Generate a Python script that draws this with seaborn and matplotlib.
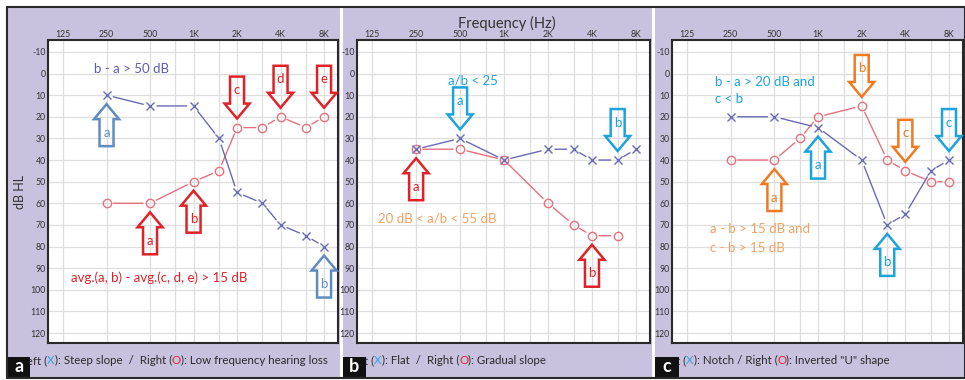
import matplotlib
matplotlib.use("Agg")
import matplotlib.pyplot as plt
import seaborn as sns
from matplotlib.patches import Polygon, Rectangle
from matplotlib.transforms import ScaledTranslation
from matplotlib.ticker import FixedLocator, NullFormatter

sns.set_theme(style="white")
plt.rcParams['font.family'] = ['Lato', 'DejaVu Sans']

# ---- data ----
octaves = [125, 250, 500, 1000, 2000, 4000, 8000]
octave_labels = ['125', '250', '500', '1K', '2K', '4K', '8K']
half_octaves = [750, 1500, 3000, 6000]
db_ticks = list(range(-10, 130, 10))

# panel a: steep slope (left) / low frequency hearing loss (right)
a_left_f = [250, 500, 1000, 1500, 2000, 3000, 4000, 6000, 8000]
a_left_db = [10, 15, 15, 30, 55, 60, 70, 75, 80]
a_right_f = [250, 500, 1000, 1500, 2000, 3000, 4000, 6000, 8000]
a_right_db = [60, 60, 50, 45, 25, 25, 20, 25, 20]

# panel b: flat (left) / gradual slope (right)
b_left_f = [250, 500, 1000, 2000, 3000, 4000, 6000, 8000]
b_left_db = [35, 30, 40, 35, 35, 40, 40, 35]
b_right_f = [250, 500, 1000, 2000, 3000, 4000, 6000]
b_right_db = [35, 35, 40, 60, 70, 75, 75]

# panel c: notch (left) / inverted "U" (right)
c_left_f = [250, 500, 1000, 2000, 3000, 4000, 6000, 8000]
c_left_db = [20, 20, 25, 40, 70, 65, 45, 40]
c_right_f = [250, 500, 750, 1000, 2000, 3000, 4000, 6000, 8000]
c_right_db = [40, 40, 30, 20, 15, 40, 45, 50, 50]

# colours
LAV = '#c9c2de'
X_COL = '#6a6ab6'
O_COL = '#e8707e'
RED = '#e02228'
STEEL = '#5f8cc0'
CYAN = '#1ea3dc'
ORANGE = '#f07a22'
ORANGE_TXT = '#f2a260'
PURPLE_TXT = '#5c5cb4'
CAP_X = '#2aa4e4'
CAP_O = '#e0203a'
DARK = '#2a2a2a'

# arrows: (freq, dB of the marker, points up?, letter, colour)
a_arrows = [(250, 10, True, 'a', STEEL), (8000, 80, True, 'b', STEEL),
            (500, 60, True, 'a', RED), (1000, 50, True, 'b', RED),
            (2000, 25, False, 'c', RED), (4000, 20, False, 'd', RED),
            (8000, 20, False, 'e', RED)]
b_arrows = [(500, 30, False, 'a', CYAN), (6000, 40, False, 'b', CYAN),
            (250, 35, True, 'a', RED), (4000, 75, True, 'b', RED)]
c_arrows = [(1000, 25, True, 'a', CYAN), (3000, 70, True, 'b', CYAN),
            (8000, 40, False, 'c', CYAN), (500, 40, True, 'a', ORANGE),
            (2000, 15, False, 'b', ORANGE), (4000, 45, False, 'c', ORANGE)]

W, H = 965, 380
fig = plt.figure(figsize=(W / 100, H / 100), dpi=100, facecolor='white')


def fig_rect(x0, y0, x1, y1):
    return [x0 / W, 1 - y1 / H, (x1 - x0) / W, (y1 - y0) / H]


def block_arrow(ax, f, db, up, letter, color):
    gap, L, hl, hw, sw = 9, 42, 15, 12.5, 7
    k = 1 if up else -1
    pts = [(0, -gap), (hw, -gap - hl), (sw, -gap - hl), (sw, -gap - L),
           (-sw, -gap - L), (-sw, -gap - hl), (-hw, -gap - hl)]
    pts = [(x / 100, k * y / 100) for x, y in pts]
    tr = fig.dpi_scale_trans + ScaledTranslation(f, db, ax.transData)
    ax.add_patch(Polygon(pts, closed=True, fill=False, ec=color, lw=1.8,
                         transform=tr, clip_on=False, zorder=5))
    ymid = k * -(gap + hl + (L - hl) / 2) / 100
    ax.text(0, ymid, letter, transform=tr, ha='center', va='center',
            color=color, fontsize=9.5, zorder=6)


def draw_series(ax, f, db, color, marker):
    # connecting segments stop short of the symbols, as on the audiogram
    for i in range(len(f) - 1):
        ax.annotate('', xy=(f[i + 1], db[i + 1]), xytext=(f[i], db[i]),
                    arrowprops=dict(arrowstyle='-', color=color, lw=1,
                                    shrinkA=5, shrinkB=5))
    if marker == 'o':
        sns.lineplot(x=f, y=db, ax=ax, linestyle='', marker='o', ms=6,
                     mfc='none', mec=color, mew=1, sort=False)
    else:
        sns.lineplot(x=f, y=db, ax=ax, linestyle='', marker='x', ms=6,
                     mec=color, mew=1, sort=False)


def caption(x_px, pieces):
    t = fig.text(x_px / W, 1 - 366 / H, pieces[0][0], color=pieces[0][1],
                 fontsize=8.3, va='bottom', ha='left', zorder=20)
    for s, c in pieces[1:]:
        t = fig.axes[0].annotate(s, xy=(1, 0), xycoords=t, va='bottom',
                                 ha='left', color=c, fontsize=8.3,
                                 annotation_clip=False, zorder=20)


# panel backgrounds and frame
for x0, x1 in [(8, 340), (343, 652), (655, 965)]:
    fig.add_artist(Rectangle(fig_rect(x0, 7, x1, 377)[:2],
                             (x1 - x0) / W, 370 / H, transform=fig.transFigure,
                             fc=LAV, ec='none', zorder=-10))
fig.add_artist(Rectangle((7 / W, 1 - 378 / H), 958 / W, 371.5 / H,
                         transform=fig.transFigure, fill=False, ec=DARK,
                         lw=1.5, zorder=-5))

panels = [
    ((48, 40, 338, 343), a_left_f, a_left_db, a_right_f, a_right_db, a_arrows),
    ((357, 40, 650, 343), b_left_f, b_left_db, b_right_f, b_right_db, b_arrows),
    ((672, 40, 963, 343), c_left_f, c_left_db, c_right_f, c_right_db, c_arrows),
]
axes = []
for box, lf, ldb, rf, rdb, arrows in panels:
    ax = fig.add_axes(fig_rect(*box))
    ax.set_facecolor('white')
    ax.set_xscale('log', base=2)
    draw_series(ax, rf, rdb, O_COL, 'o')
    draw_series(ax, lf, ldb, X_COL, 'x')
    ax.set_xlim(98.4, 9990)
    ax.set_ylim(124.6, -15.5)
    ax.xaxis.set_major_locator(FixedLocator(octaves))
    ax.set_xticklabels(octave_labels)
    ax.xaxis.set_minor_locator(FixedLocator(half_octaves))
    ax.xaxis.set_minor_formatter(NullFormatter())
    ax.set_yticks(db_ticks)
    ax.set_yticklabels([str(v) for v in db_ticks])
    ax.grid(True, which='both', color='#dedede', lw=0.9)
    ax.set_axisbelow(True)
    ax.xaxis.tick_top()
    ax.tick_params(axis='x', which='both', length=0, pad=1.0, labelsize=6.3,
                   labelcolor='#333333')
    ax.tick_params(axis='y', length=0, pad=1.5, labelsize=6.3,
                   labelcolor='#333333')
    ax.set_xlabel('')
    ax.set_ylabel('')
    for sp in ax.spines.values():
        sp.set_color(DARK)
        sp.set_linewidth(1.5)
    for f, db, up, letter, color in arrows:
        block_arrow(ax, f, db, up, letter, color)
    axes.append(ax)

ax_a, ax_b, ax_c = axes
ax_a.set_ylabel('dB HL', fontsize=9, color='#333333', labelpad=3)
fig.text(507 / W, 1 - 23 / H, 'Frequency (Hz)', ha='center', va='center',
         fontsize=10.5, color='#333333')

# criteria texts
ax_a.text(206, -2, 'b - a > 50 dB', color=PURPLE_TXT, fontsize=9.5,
          ha='left', va='center')
ax_a.text(141, 94.5, 'avg.(a, b) - avg.(c, d, e) > 15 dB', color=RED,
          fontsize=9.5, ha='left', va='center')
ax_b.text(415, 3, 'a/b < 25', color=CYAN, fontsize=9.5, ha='left',
          va='center')
ax_b.text(137, 67, '20 dB < a/b < 55 dB', color=ORANGE_TXT, fontsize=9.5,
          ha='left', va='center')
ax_c.text(194, 4, 'b - a > 20 dB and', color=CYAN, fontsize=9.5, ha='left',
          va='center')
ax_c.text(194, 12, 'c < b', color=CYAN, fontsize=9.5, ha='left', va='center')
ax_c.text(179, 72, 'a - b > 15 dB and', color=ORANGE_TXT, fontsize=9.5,
          ha='left', va='center')
ax_c.text(179, 80.5, 'c - b > 15 dB', color=ORANGE_TXT, fontsize=9.5,
          ha='left', va='center')

# captions
caption(21, [('Left (', DARK), ('X', CAP_X), ('): Steep slope  /  Right (', DARK),
             ('O', CAP_O), ('): Low frequency hearing loss', DARK)])
caption(348, [('Left (', DARK), ('X', CAP_X), ('): Flat  /  Right (', DARK),
              ('O', CAP_O), ('): Gradual slope', DARK)])
caption(660, [('Left (', DARK), ('X', CAP_X), ('): Notch / Right (', DARK),
              ('O', CAP_O), ('): Inverted "U" shape', DARK)])

# panel letters (they sit over the start of each caption, as in the source)
for (x0, x1), lab in zip([(8, 30), (343, 366), (655, 679)], 'abc'):
    fig.add_artist(Rectangle(fig_rect(x0, 357, x1, 377)[:2], (x1 - x0) / W,
                             20 / H, transform=fig.transFigure, fc='#111111',
                             ec='none', zorder=30))
    fig.text((x0 + x1) / 2 / W, 1 - 367 / H, lab, color='white',
             fontsize=13, fontweight='bold', ha='center', va='center',
             zorder=31)

fig.savefig('out.png', dpi=100, facecolor='white')
